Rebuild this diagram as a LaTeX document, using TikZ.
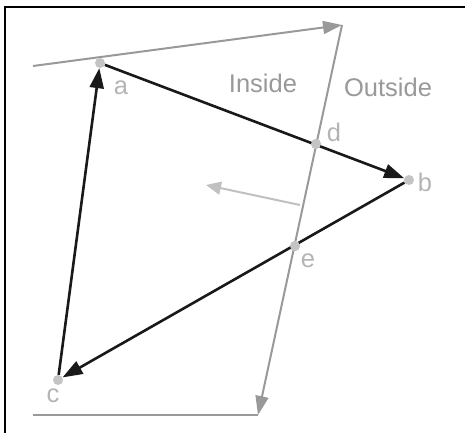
\documentclass[tikz,border=0pt]{standalone}
\usepackage{fontspec}
\setmainfont{Liberation Sans}
\usetikzlibrary{arrows.meta}

\definecolor{clipgray}{HTML}{999999}
\definecolor{ptgray}{HTML}{C4C4C4}
\definecolor{lblgray}{HTML}{B4B4B4}
\definecolor{normgray}{HTML}{C0C0C0}

\begin{document}
\begin{tikzpicture}[
    x=1pt, y=-1pt,
    font=\fontsize{25.5}{30}\selectfont,
    ptdot/.style={circle, fill=ptgray, inner sep=0pt, minimum size=10pt},
    edgearr/.style={black!90, line width=2.6pt,
      -{Triangle[length=20pt,width=14pt]}},
    cliparr/.style={clipgray, line width=2pt,
      -{Triangle[length=19pt,width=13pt]}},
    lbl/.style={lblgray, anchor=base, inner sep=0pt},
  ]
  \useasboundingbox (0,0) rectangle (465,433);

  % frame (top and left only)
  \draw[line width=1.8pt] (465,7) -- (5,7) -- (5,433);

  % ------------------------------------------------------------------
  % clip boundary
  % ------------------------------------------------------------------
  \coordinate (c1) at (33,66);
  \coordinate (c2) at (342,25);
  \coordinate (c3) at (258,415);
  \coordinate (c4) at (33,415);
  \draw[cliparr] (c1) -- (c2);
  \draw[cliparr] (c2) -- (c3);
  \draw[clipgray, line width=2pt] (c3) -- (c4);

  % inward normal
  \coordinate (n0) at (300,205);
  \coordinate (n1) at (206,185);
  \draw[normgray, line width=2pt, -{Triangle[length=15pt,width=13pt]}] (n0) -- (n1);

  % ------------------------------------------------------------------
  % polygon vertices and intersections
  % ------------------------------------------------------------------
  \node[ptdot] (a) at (100,63) {};
  \node[ptdot] (b) at (409,180) {};
  \node[ptdot] (c) at (58,380) {};
  \node[ptdot] (d) at (316,144) {};
  \node[ptdot] (e) at (295,246) {};

  \draw[edgearr] (a) -- (b);
  \draw[edgearr] (b) -- (c);
  \draw[edgearr] (c) -- (a);
  \node[ptdot] at (d) {};
  \node[ptdot] at (e) {};

  % labels
  \node[lbl] (la) at (121,95) {a};
  \node[lbl] (lb) at (425,191) {b};
  \node[lbl] (lc) at (53,402) {c};
  \node[lbl] (ld) at (334,141) {d};
  \node[lbl] (le) at (308,267) {e};
  \node[lbl, text=clipgray] (lin) at (263,93) {Inside};
  \node[lbl, text=clipgray] (lout) at (388,97) {Outside};

\end{tikzpicture}
\end{document}
